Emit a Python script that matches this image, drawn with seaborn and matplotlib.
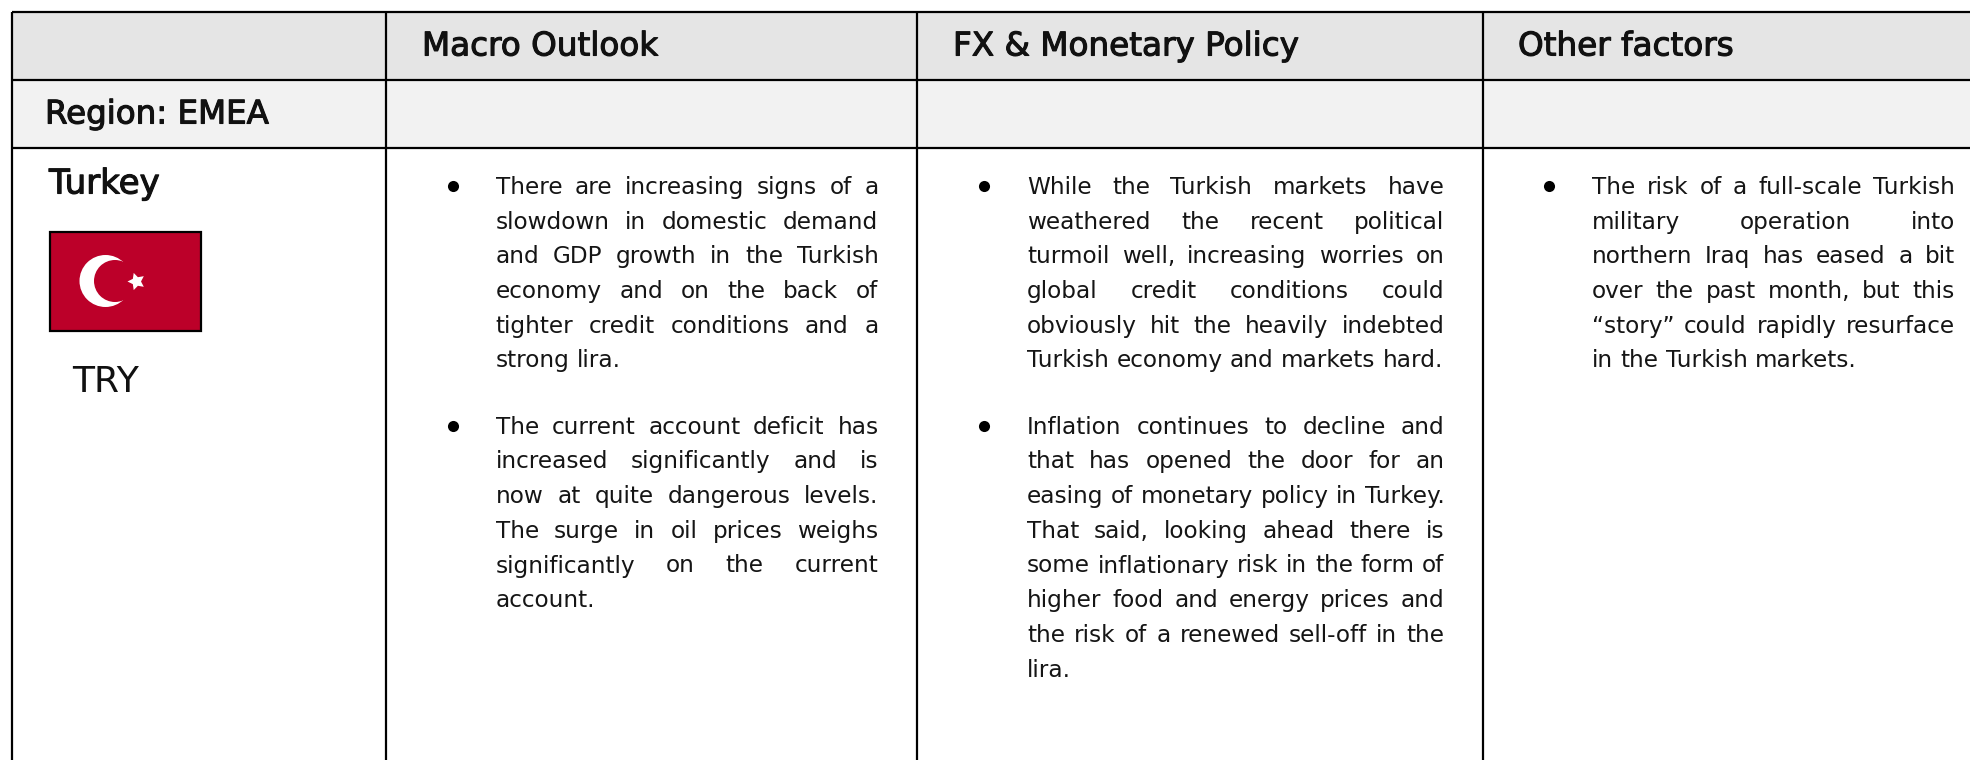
import matplotlib
matplotlib.use("Agg")
import matplotlib.pyplot as plt
import matplotlib.patheffects as pe
import seaborn as sns
from matplotlib.patches import Rectangle, Circle

sns.set_theme(style="white")
plt.rcParams['font.family'] = ['DejaVu Sans']

W, H = 1970, 760
COL_EDGES = [12, 386, 917, 1483, 1972]
ROW_EDGES = [12, 80, 148, 762]
ROW_SHADES = [0.898, 0.949, 1.0]

HEADERS = ["Macro Outlook", "FX & Monetary Policy", "Other factors"]
HEADER_X = [422, 953, 1518]
REGION = "Region: EMEA"
COUNTRY = "Turkey"
CURRENCY = "TRY"

MACRO = [
    ["There are increasing signs of a", "slowdown in domestic demand", "and GDP growth in the Turkish",
     "economy and on the back of", "tighter credit conditions and a", "strong lira."],
    ["The current account deficit has", "increased significantly and is", "now at quite dangerous levels.",
     "The surge in oil prices weighs", "significantly on the current", "account."],
]
FX = [
    ["While the Turkish markets have", "weathered the recent political", "turmoil well, increasing worries on",
     "global credit conditions could", "obviously hit the heavily indebted", "Turkish economy and markets hard."],
    ["Inflation continues to decline and", "that has opened the door for an", "easing of monetary policy in Turkey.",
     "That said, looking ahead there is", "some inflationary risk in the form of", "higher food and energy prices and",
     "the risk of a renewed sell-off in the", "lira."],
]
OTHER = [
    ["The risk of a full-scale Turkish", "military operation into", "northern Iraq has eased a bit",
     "over the past month, but this", "\u201cstory\u201d could rapidly resurface", "in the Turkish markets."],
]
COLUMNS = [(MACRO, 453, 495.5, 878.5), (FX, 984, 1027, 1444.5), (OTHER, 1549, 1592, 1955)]

BODY_PT = 16.7
LINE = 34.7
PARA_GAP = 31.5
FIRST_Y = 185

fig = plt.figure(figsize=(W / 100, H / 100), dpi=100)
fig.patch.set_facecolor("white")

# shaded table cells, one heatmap per cell
for r, shade in enumerate(ROW_SHADES):
    for c in range(4):
        x0, x1 = COL_EDGES[c], COL_EDGES[c + 1]
        y0, y1 = ROW_EDGES[r], ROW_EDGES[r + 1]
        ax = fig.add_axes([x0 / W, 1 - y1 / H, (x1 - x0) / W, (y1 - y0) / H])
        sns.heatmap([[shade]], vmin=0, vmax=1, cmap="gray", cbar=False, ax=ax,
                    xticklabels=False, yticklabels=False)

ov = fig.add_axes([0, 0, 1, 1], zorder=5)
ov.set_xlim(0, W)
ov.set_ylim(H, 0)
ov.axis("off")
ov.patch.set_alpha(0)

ov.vlines(COL_EDGES[:-1], ROW_EDGES[0], H, color="black", lw=1.6)
ov.hlines(ROW_EDGES[:-1], COL_EDGES[0], W, color="black", lw=1.6)

heavy = [pe.withStroke(linewidth=0.8, foreground="#111111")]
for x, label in zip(HEADER_X, HEADERS):
    ov.text(x, 46, label, fontsize=23.5, color="#111111", va="center", ha="left", path_effects=heavy)
ov.text(45, 115, REGION, fontsize=23.4, color="#111111", va="center", ha="left", path_effects=heavy)
ov.text(49, 184, COUNTRY, fontsize=24.5, color="#111111", va="center", ha="left", path_effects=heavy)
ov.text(72, 382, CURRENCY, fontsize=26, color="#111111", va="center", ha="left")

# flag
ov.add_patch(Rectangle((50, 232), 151, 99, fc="#BC0029", ec="black", lw=1.6))
ov.add_patch(Circle((105.5, 281), 26, fc="white", ec="none"))
ov.add_patch(Circle((115, 281), 21, fc="#BC0029", ec="none"))
ov.plot([136], [281], marker=(5, 1, 90), ms=13, color="white", mew=0)

renderer = fig.canvas.get_renderer()


def advance(word):
    t = ov.text(0, 0, word + " .", fontsize=BODY_PT)
    w1 = t.get_window_extent(renderer).width
    t.set_text(" .")
    w2 = t.get_window_extent(renderer).width
    t.remove()
    return w1 - w2


def draw_line(line, y, left, right, justify):
    words = line.split(" ")
    widths = [advance(w) for w in words]
    gap = advance("a b") - advance("a") - advance("b")
    if justify and len(words) > 1:
        gap = (right - left - sum(widths)) / (len(words) - 1)
    x = left
    for w, wd in zip(words, widths):
        ov.text(x, y, w, fontsize=BODY_PT, color="#151515", va="center_baseline", ha="left")
        x += wd + gap


for paragraphs, bullet_x, left, right in COLUMNS:
    y = FIRST_Y
    for para in paragraphs:
        ov.plot([bullet_x], [y + 1], marker="o", ms=8, color="black", mew=0)
        for i, line in enumerate(para):
            draw_line(line, y, left, right, i < len(para) - 1)
            if i < len(para) - 1:
                y += LINE
        y += LINE + PARA_GAP

fig.savefig("out.png", dpi=100)
